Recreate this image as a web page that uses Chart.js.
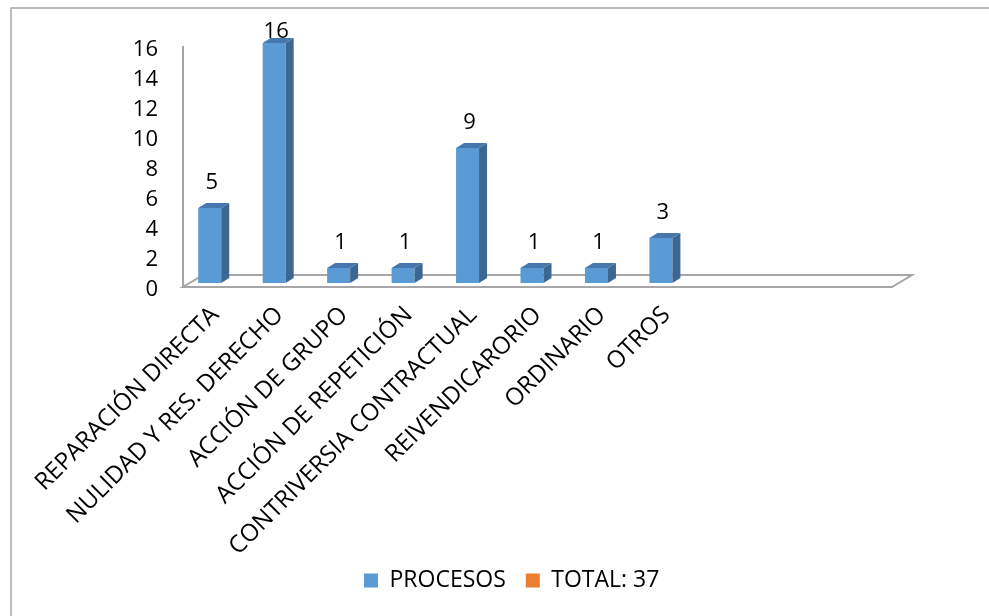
<!DOCTYPE html>
<html>
<head>
<meta charset="utf-8">
<script src="https://cdn.jsdelivr.net/npm/chart.js@4"></script>
<style>
  html, body { margin: 0; padding: 0; background: #ffffff; }
  #wrap { position: relative; width: 989px; height: 616px; }
</style>
</head>
<body>
<div id="wrap"><canvas id="c" width="989" height="616"></canvas></div>
<script>
const categories = [
  'REPARACIÓN DIRECTA',
  'NULIDAD Y RES. DERECHO',
  'ACCIÓN DE GRUPO',
  'ACCIÓN DE REPETICIÓN',
  'CONTRIVERSIA CONTRACTUAL',
  'REIVENDICARORIO',
  'ORDINARIO',
  'OTROS',
  '', '', ''
];
const procesos = [5, 16, 1, 1, 9, 1, 1, 3, null, null, null];
const total = [null, null, null, null, null, null, null, null, null, null, null];
const seriesNames = ['PROCESOS', 'TOTAL: 37'];
const yTicks = [0, 2, 4, 6, 8, 10, 12, 14, 16];

const FONT = "'Open Sans', 'DejaVu Sans', sans-serif";
const DEPTH_X = 20, DEPTH_Y = 12;      // floor depth
const BAR_DX = 8, BAR_DY = 5;          // bar depth
const SHIFT_X = 6, SHIFT_Y = 4;        // bars sit mid-depth
const LEGEND_START = 344;              // left edge of the legend block

const threeD = {
  id: 'threeD',
  afterLayout(chart) {
    // let the rotated category labels run past the axis box without clipping
    const xs = chart.scales.x;
    if (xs) xs.bottom = chart.height;
    if (chart.legend) chart.legend.left = LEGEND_START;
  },
  beforeDraw(chart) {
    const ctx = chart.ctx;
    ctx.save();
    ctx.strokeStyle = '#a6a6a6';
    ctx.lineWidth = 1.5;
    ctx.beginPath();
    ctx.moveTo(11, 620);
    ctx.lineTo(11, 8);
    ctx.lineTo(995, 8);
    ctx.stroke();
    ctx.restore();
  },
  beforeDatasetsDraw(chart) {
    const ctx = chart.ctx;
    const a = chart.chartArea;
    ctx.save();
    ctx.strokeStyle = '#a6a6a6';
    ctx.lineWidth = 2;
    ctx.beginPath();
    ctx.moveTo(a.left, a.bottom);
    ctx.lineTo(a.right, a.bottom);
    ctx.lineTo(a.right + DEPTH_X, a.bottom - DEPTH_Y);
    ctx.lineTo(a.left + DEPTH_X, a.bottom - DEPTH_Y);
    ctx.closePath();
    ctx.stroke();
    ctx.restore();
    ctx.save();
    ctx.translate(SHIFT_X, -SHIFT_Y);
  },
  afterDatasetsDraw(chart) {
    const ctx = chart.ctx;
    const meta = chart.getDatasetMeta(0);
    meta.data.forEach((bar, i) => {
      const v = procesos[i];
      if (v === null || v === undefined) return;
      const p = bar.getProps(['x', 'y', 'base', 'width'], true);
      const l = p.x - p.width / 2, r = p.x + p.width / 2;
      // side face
      ctx.fillStyle = '#3c6792';
      ctx.beginPath();
      ctx.moveTo(r, p.y);
      ctx.lineTo(r + BAR_DX, p.y - BAR_DY);
      ctx.lineTo(r + BAR_DX, p.base - BAR_DY);
      ctx.lineTo(r, p.base);
      ctx.closePath();
      ctx.fill();
      // top face
      ctx.fillStyle = '#4677ae';
      ctx.beginPath();
      ctx.moveTo(l, p.y);
      ctx.lineTo(l + BAR_DX, p.y - BAR_DY);
      ctx.lineTo(r + BAR_DX, p.y - BAR_DY);
      ctx.lineTo(r, p.y);
      ctx.closePath();
      ctx.fill();
    });
    ctx.restore();
    // data labels
    ctx.save();
    ctx.fillStyle = '#000';
    ctx.font = '22px ' + FONT;
    ctx.textAlign = 'center';
    ctx.textBaseline = 'middle';
    meta.data.forEach((bar, i) => {
      const v = procesos[i];
      if (v === null || v === undefined) return;
      const p = bar.getProps(['x', 'y'], true);
      let y = p.y - SHIFT_Y - 25;
      if (y < 32) y = 32;
      ctx.fillText(String(v), p.x + SHIFT_X + 2, y);
    });
    ctx.restore();
  }
};

new Chart(document.getElementById('c'), {
  type: 'bar',
  data: {
    labels: categories,
    datasets: [
      { label: seriesNames[0], data: procesos, backgroundColor: '#5b9bd5', borderWidth: 0, clip: false },
      { label: seriesNames[1], data: total, backgroundColor: '#ed7d31', borderWidth: 0, clip: false }
    ]
  },
  options: {
    responsive: false,
    animation: false,
    devicePixelRatio: 1,
    layout: { padding: { top: 47, right: 97, left: 0, bottom: 14 } },
    datasets: { bar: { barPercentage: 1.0, categoryPercentage: 0.714 } },
    scales: {
      x: {
        grid: { display: false, drawTicks: false },
        border: { display: false },
        ticks: {
          autoSkip: false,
          minRotation: 45,
          maxRotation: 45,
          padding: 14,
          color: '#000',
          font: { family: FONT, size: 24 }
        },
        afterFit(scale) { scale.height = 262; }
      },
      y: {
        min: 0,
        max: 16,
        afterBuildTicks(scale) { scale.ticks = yTicks.map(v => ({ value: v })); },
        grid: { display: false, drawTicks: false },
        border: { display: true, color: '#a6a6a6', width: 2 },
        ticks: {
          padding: 25,
          labelOffset: 3,
          color: '#000',
          font: { family: FONT, size: 22 }
        },
        afterFit(scale) { scale.width = 183; }
      }
    },
    plugins: {
      tooltip: { enabled: false },
      legend: {
        position: 'bottom',
        align: 'start',
        labels: {
          boxWidth: 14,
          boxHeight: 14,
          padding: 20,
          color: '#000',
          font: { family: FONT, size: 23 },
          generateLabels(chart) {
            return chart.data.datasets.map((d, i) => ({
              text: d.label,
              fillStyle: d.backgroundColor,
              strokeStyle: d.backgroundColor,
              lineWidth: 0,
              hidden: false,
              datasetIndex: i
            }));
          }
        }
      }
    }
  },
  plugins: [threeD]
});
</script>
</body>
</html>
